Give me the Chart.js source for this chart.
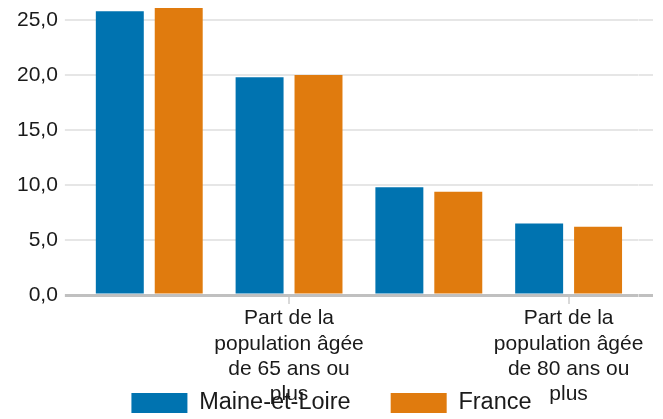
<!DOCTYPE html>
<html lang="fr">
<head>
<meta charset="utf-8">
<title>Part de la population âgée</title>
<script src="https://cdn.jsdelivr.net/npm/chart.js@4/dist/chart.umd.min.js"></script>
<style>
  html, body { margin: 0; padding: 0; background: #fff; }
  #wrap { width: 663px; height: 419px; position: relative; }
</style>
</head>
<body>
<div id="wrap"><canvas id="ageChart"></canvas></div>
<script>
// age groups (label lines as wrapped in the original)
const categories = [
  ['Part de la', 'population âgée', 'de 60 ans ou', 'plus'],
  ['Part de la', 'population âgée', 'de 65 ans ou', 'plus'],
  ['Part de la', 'population âgée', 'de 75 ans ou', 'plus'],
  ['Part de la', 'population âgée', 'de 80 ans ou', 'plus']
];
const maineEtLoire = [25.8, 19.8, 9.8, 6.5];
const france = [26.1, 20.0, 9.4, 6.2];
const seriesNames = ['Maine-et-Loire', 'France'];
const yTickStep = 5;

(function () {
  const blue = '#0073b0';
  const orange = '#e07b0e';
  const textColor = '#1a1a1a';
  const yMax = Math.max.apply(null, maineEtLoire.concat(france));

  function gridColor(ctx) {
    return ctx.tick && ctx.tick.value === 0 ? '#c0c0c0' : '#e6e6e6';
  }
  function gridWidth(ctx) {
    return ctx.tick && ctx.tick.value === 0 ? 3 : 2;
  }

  // the x labels run into the legend in the original, so let them draw past the axis box
  const labelRoom = {
    id: 'labelRoom',
    afterLayout: function (chart) {
      chart.scales.x.bottom = chart.height;
    }
  };

  const ctx = document.getElementById('ageChart').getContext('2d');
  new Chart(ctx, {
    type: 'bar',
    data: {
      labels: categories,
      datasets: [
        { label: seriesNames[0], data: maineEtLoire, backgroundColor: blue, borderWidth: 0 },
        { label: seriesNames[1], data: france, backgroundColor: orange, borderWidth: 0 }
      ]
    },
    plugins: [labelRoom],
    options: {
      responsive: true,
      maintainAspectRatio: false,
      animation: false,
      categoryPercentage: 0.843,
      barPercentage: 0.814,
      layout: { padding: { top: 0, left: 10, right: 10, bottom: 0 } },
      scales: {
        x: {
          offset: true,
          border: { display: false },
          grid: { offset: false, drawOnChartArea: false, drawTicks: true, tickLength: 9, color: '#d9d9d9', lineWidth: 2 },
          ticks: {
            autoSkip: false,
            maxRotation: 0,
            minRotation: 0,
            padding: 2,
            color: textColor,
            font: { family: '"Liberation Sans", Arial, sans-serif', size: 21, lineHeight: 1.2 },
            // only every second group is labelled in the original
            callback: function (value, index) {
              return index % 2 === 1 ? this.getLabelForValue(value) : null;
            }
          },
          afterFit: function (scale) { scale.height = 56.25; }
        },
        y: {
          min: 0,
          max: yMax,
          border: { display: false },
          grid: { color: gridColor, lineWidth: gridWidth, tickLength: 14.5 },
          ticks: {
            stepSize: yTickStep,
            includeBounds: false,
            padding: 7,
            color: textColor,
            font: { family: '"Liberation Sans", Arial, sans-serif', size: 21, lineHeight: 0.1 },
            callback: function (v) { return v.toFixed(1).replace('.', ','); }
          }
        },
        y2: {
          position: 'right',
          min: 0,
          max: yMax,
          border: { display: false },
          grid: { drawOnChartArea: false, color: gridColor, lineWidth: gridWidth, tickLength: 14.5 },
          ticks: { display: false, stepSize: yTickStep, includeBounds: false }
        }
      },
      plugins: {
        legend: {
          position: 'bottom',
          maxHeight: 67.75,
          labels: {
            boxWidth: 56,
            boxHeight: 20,
            padding: 40,
            color: textColor,
            font: { family: '"Liberation Sans", Arial, sans-serif', size: 23.5 }
          }
        },
        tooltip: { enabled: false }
      }
    }
  });
})();
</script>
</body>
</html>
